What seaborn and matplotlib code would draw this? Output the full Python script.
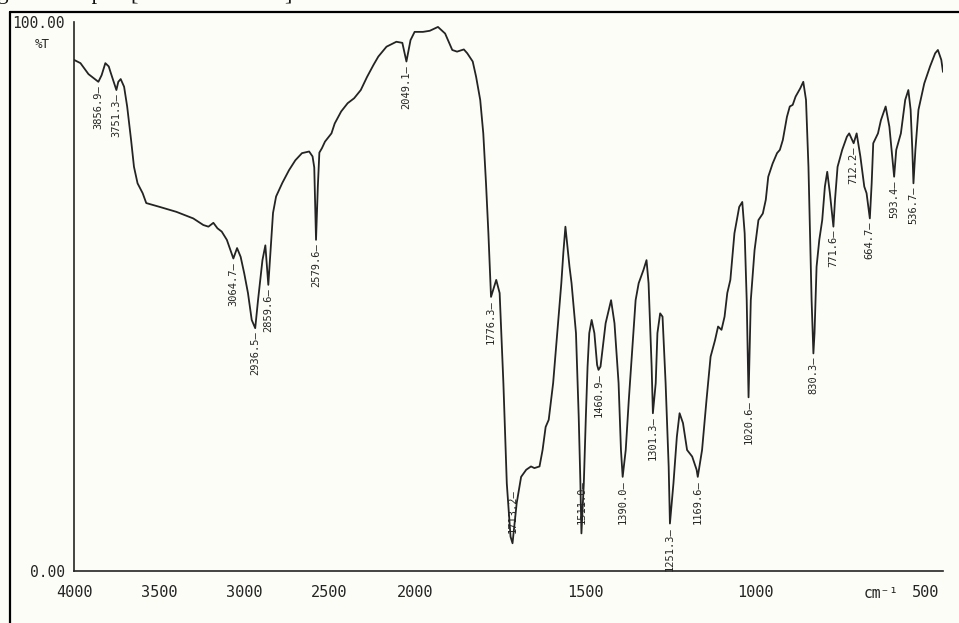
import numpy as np
import pandas as pd
import matplotlib
matplotlib.use("Agg")
import matplotlib.pyplot as plt
from matplotlib.lines import Line2D
from matplotlib.ticker import NullLocator, FixedLocator, FixedFormatter
import seaborn as sns

# ---- IR transmittance trace (wavenumber in cm-1, transmittance in %T) ----
trace_wn = [
    4000, 3962, 3915, 3838, 3816, 3796, 3786, 3740, 3726, 3706, 3688, 3665,
    3648, 3627, 3597, 3576, 3497, 3399, 3300, 3241, 3211, 3182, 3158, 3133,
    3103, 3043, 3022, 3001, 2979, 2957, 2920, 2894, 2877, 2832, 2814, 2777,
    2738, 2701, 2662, 2620, 2600, 2590, 2569, 2560, 2545, 2527, 2489, 2470,
    2432, 2394, 2356, 2317, 2280, 2242, 2214, 2166, 2108, 2073, 2025, 2001,
    1976, 1956, 1932, 1911, 1890, 1876, 1856, 1846, 1830, 1820, 1808, 1799,
    1791, 1784, 1761, 1751, 1740, 1730, 1719, 1701, 1688, 1673, 1659, 1649,
    1634, 1625, 1616, 1607, 1594, 1582, 1570, 1564, 1558, 1546, 1540, 1527,
    1519, 1514, 1504, 1498, 1493, 1488, 1481, 1473, 1465, 1455, 1440, 1424,
    1414, 1402, 1395, 1381, 1372, 1362, 1352, 1343, 1329, 1320, 1314, 1305,
    1293, 1288, 1280, 1273, 1264, 1255, 1241, 1231, 1223, 1213, 1201, 1186,
    1173, 1157, 1144, 1132, 1119, 1110, 1100, 1091, 1083, 1074, 1062, 1048,
    1039, 1032, 1026, 1014, 1003, 991.6, 978.7, 970, 962.8, 950, 937, 928.7,
    920, 908, 899.6, 891, 882.6, 869, 860, 852, 844.8, 835.6, 827, 821, 813,
    804.4, 796.6, 789.7, 781.9, 766.9, 759.4, 745.8, 732, 725.3, 703.4,
    692.5, 681, 674.3, 659.3, 654.7, 640.8, 632.2, 618.3, 607.3, 587.2,
    573.6, 560.9, 551.7, 545, 540, 531, 522, 505, 488, 473, 465, 455, 450,
]
trace_T = [
    93.1, 92.5, 90.5, 90.3, 92.5, 91.9, 90.9, 89.1, 89.6, 88.2, 84.6, 78.5,
    73.6, 70.6, 68.8, 67.0, 66.3, 65.4, 64.2, 63.0, 62.7, 63.4, 62.4, 61.8,
    60.3, 58.8, 57.2, 54.2, 50.6, 45.7, 49.3, 56.6, 59.3, 65.2, 68.2, 70.7,
    73.0, 74.8, 76.1, 76.4, 75.5, 73.5, 70.0, 76.2, 77.0, 78.2, 79.7, 81.5,
    83.7, 85.2, 86.1, 87.6, 90.0, 92.2, 93.7, 95.5, 96.4, 96.2, 96.7, 98.2,
    98.2, 98.4, 99.1, 97.9, 94.9, 94.6, 95.0, 94.3, 92.8, 90.0, 85.8, 79.7,
    70.6, 61.5, 53.0, 50.6, 34.2, 15.9, 6.2, 12.3, 17.1, 18.4, 19.0, 18.7,
    19.0, 22.0, 26.2, 27.5, 34.2, 43.3, 52.4, 58.0, 62.7, 55.4, 52.4, 43.3,
    28.1, 15.9, 15.9, 28.1, 37.2, 43.3, 45.7, 43.3, 37.5, 37.2, 45.1, 49.3,
    45.1, 34.2, 22.0, 22.0, 31.1, 40.2, 49.3, 52.4, 54.8, 56.6, 52.4, 37.2,
    34.2, 43.3, 46.9, 46.3, 34.2, 19.0, 15.9, 24.4, 28.7, 26.9, 22.0, 20.8,
    18.4, 22.0, 31.1, 39.0, 42.0, 44.5, 43.9, 46.3, 50.6, 53.0, 61.5, 66.3,
    67.2, 61.5, 49.3, 49.3, 58.4, 63.9, 65.1, 67.6, 71.8, 74.2, 76.1, 76.7,
    78.5, 82.7, 84.6, 84.9, 86.4, 87.9, 89.1, 85.8, 73.6, 49.3, 43.3, 55.4, 60.3,
    63.9, 70.0, 72.7, 68.8, 67.6, 73.6, 76.7, 79.1, 79.7, 79.7,
    75.5, 70.0, 68.8, 70.6, 77.9, 79.7, 82.1, 84.6, 80.9, 76.7,
    79.7, 85.8, 87.6, 84.0, 76.7, 76.7, 84.0, 88.8, 91.9, 94.3, 94.9, 93.1, 90.9,
]

# ---- labelled absorption minima ----
peak_labels = [
    "3856.9", "3751.3", "3064.7", "2936.5", "2859.6", "2579.6", "2049.1",
    "1776.3", "1713.2", "1511.0", "1460.9", "1390.0", "1301.3", "1251.3",
    "1169.6", "1020.6", "830.3", "771.6", "712.2", "664.7", "593.4", "536.7",
]
peak_T = [
    89.1, 87.6, 56.9, 44.2, 52.1, 60.3, 92.8,
    49.9, 5.0, 6.8, 36.6, 17.1, 28.7, 8.6,
    17.1, 31.6, 39.6, 62.7, 77.9, 64.2, 71.8, 70.6,
]
peak_wn = [float(s) for s in peak_labels]

x_ticks = [4000, 3500, 3000, 2500, 2000, 1500, 1000, 500]
y_ticks = [0, 20, 40, 60, 80, 100]
y_ticklabels = ["0.00", "", "", "", "", "100.00"]

spectrum = pd.DataFrame({
    "wavenumber": trace_wn + peak_wn,
    "transmittance": trace_T + peak_T,
}).sort_values("wavenumber", ascending=False).reset_index(drop=True)

# ---- styling ----
sns.set_style("white")
plt.rcParams["font.family"] = ["DejaVu Sans Mono", "DejaVu Sans"]
paper = "#fdfdf8"
ink = "#242424"

fig = plt.figure(figsize=(9.59, 6.23), dpi=100, facecolor=paper)
ax = fig.add_axes([74 / 959, (623 - 570.7) / 623, (943 - 74) / 959, 548.7 / 623])
ax.set_facecolor(paper)


# chart paper: 2x expanded abscissa below 2000 cm-1
def _fwd(w):
    w = np.asarray(w, dtype=float)
    return np.where(w >= 2000, w, 2 * w - 2000)


def _inv(p):
    p = np.asarray(p, dtype=float)
    return np.where(p >= 2000, p, (p + 2000) / 2)


ax.set_xscale("function", functions=(_fwd, _inv))

sns.lineplot(data=spectrum, x="wavenumber", y="transmittance", ax=ax,
             sort=False, estimator=None, color=ink, linewidth=1.3)

ax.set_xlim(4000, 450)
ax.set_ylim(0, 100)
ax.xaxis.set_major_locator(FixedLocator(x_ticks))
ax.xaxis.set_minor_locator(NullLocator())
ax.set_xticklabels([str(t) for t in x_ticks])
ax.yaxis.set_major_locator(FixedLocator(y_ticks))
ax.yaxis.set_major_formatter(FixedFormatter(y_ticklabels))
ax.set_xlabel("")
ax.set_ylabel("")

for side in ("top", "right"):
    ax.spines[side].set_visible(False)
for side in ("left", "bottom"):
    ax.spines[side].set_color(ink)
    ax.spines[side].set_linewidth(1.2)

ax.tick_params(axis="x", direction="out", length=5, width=1.1, color=ink,
               labelsize=11, labelcolor=ink, pad=5.5)
ax.tick_params(axis="y", direction="out", length=5, width=1.1, color=ink,
               labelsize=10.5, labelcolor=ink, pad=1.5)

# peak annotations (vertical, with leader dash toward the minimum)
for w, t, lab in zip(peak_wn, peak_T, peak_labels):
    if t < 8:
        ax.text(w, t + 1.8, lab + "\u2014", rotation=90, ha="center", va="bottom",
                fontsize=7.5, color=ink)
    else:
        ax.text(w, t - 0.6, lab + "\u2014", rotation=90, ha="center", va="top",
                fontsize=7.5, color=ink)

# unit captions
fig.text(42 / 959, (623 - 44) / 623, "%T", ha="center", va="center",
         fontsize=9, color=ink)
fig.text(881 / 959, (623 - 593) / 623, "cm\u207b\u00b9", ha="center", va="center",
         fontsize=10.5, color=ink)

# frame of the chart sheet
fig.add_artist(Line2D([10 / 959, 1.0], [(623 - 12) / 623] * 2,
                      transform=fig.transFigure, color="black", linewidth=1.6))
fig.add_artist(Line2D([10 / 959] * 2, [0.0, (623 - 12) / 623],
                      transform=fig.transFigure, color="black", linewidth=1.6))

# running text of the page above the sheet (only its lowest strokes are on the sheet)
page_top = 1 + 0.5 / 623
page_font = dict(va="baseline", fontsize=16, family="Liberation Serif", color="#111111")
fig.text(9 / 959, page_top, "ing", ha="right", **page_font)
fig.text(103 / 959, page_top, "Group", ha="right", **page_font)
fig.text(130 / 959, page_top, "[", ha="left", **page_font)
fig.text(284 / 959, page_top, "]", ha="left", **page_font)

fig.savefig("out.png", dpi=100, facecolor=paper)
